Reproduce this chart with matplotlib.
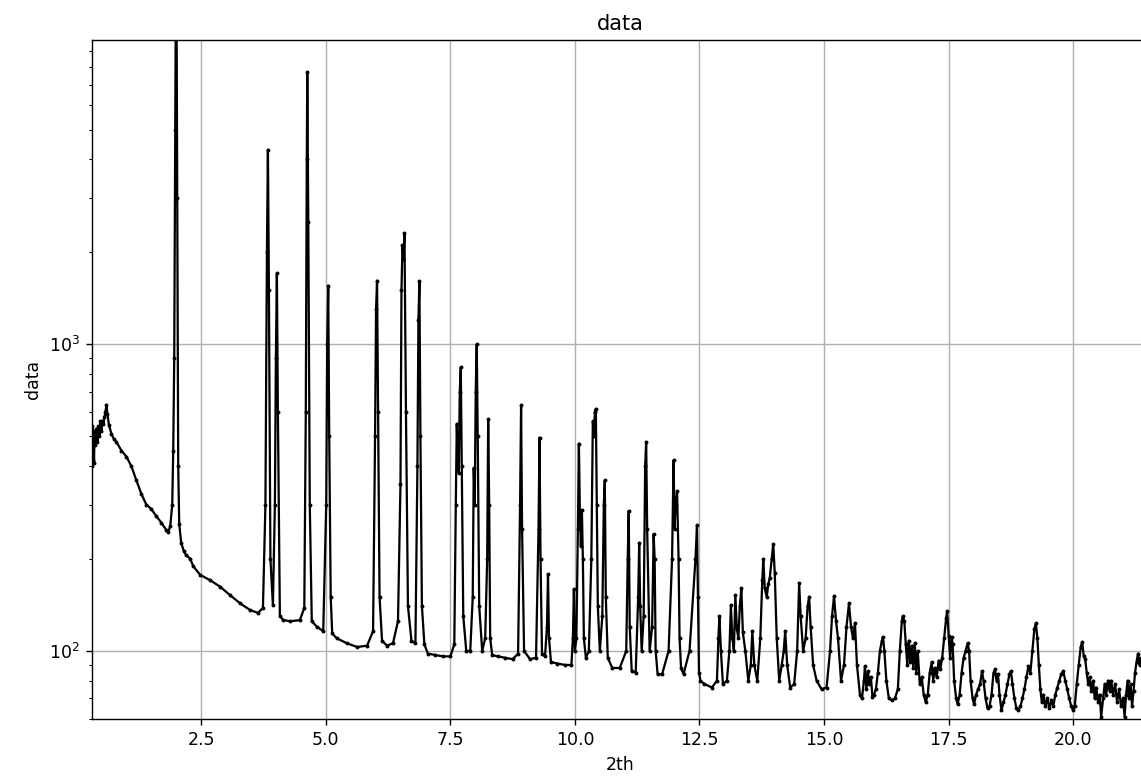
# XRD-like scan, log intensity vs 2th
import numpy as np
import matplotlib
matplotlib.use('Agg')
import matplotlib.pyplot as plt

# low angle part incl. the big reflex at 2.0
tth_a = [0.31, 0.32, 0.33, 0.34, 0.35, 0.36, 0.38, 0.40, 0.42, 0.44, 0.46, 0.48, 0.50, 0.52,
         0.54, 0.56, 0.58, 0.60, 0.62, 0.65, 0.70, 0.75, 0.80, 0.90, 1.00, 1.10, 1.20, 1.30,
         1.40, 1.50, 1.60, 1.70, 1.80, 1.84, 1.88, 1.92, 1.94, 1.96, 1.98, 2.00, 2.02, 2.04,
         2.06, 2.10, 2.15, 2.20, 2.28]
cnt_a = [400, 540, 420, 520, 410, 500, 470, 530, 480, 540, 500, 560, 520, 560,
         550, 580, 600, 635, 590, 545, 510, 490, 480, 450, 430, 400, 360, 325,
         300, 290, 275, 262, 248, 244, 255, 300, 450, 900, 5000, 25000, 3000, 400,
         260, 225, 212, 205, 200]

# 2.3 - 7.0
tth_b = [2.34, 2.48, 2.68, 2.88, 3.08, 3.28, 3.48, 3.64, 3.74, 3.79, 3.82, 3.84, 3.86, 3.89,
         3.94, 3.98, 4.00, 4.02, 4.04, 4.08, 4.15, 4.29, 4.48, 4.57, 4.60, 4.62, 4.63, 4.65,
         4.68, 4.72, 4.82, 4.95, 5.01, 5.03, 5.05, 5.07, 5.10, 5.13, 5.22, 5.42, 5.63, 5.83,
         5.95, 5.99, 6.01, 6.03, 6.05, 6.08, 6.13, 6.23, 6.35, 6.45, 6.50, 6.52, 6.54, 6.56,
         6.58, 6.61, 6.65, 6.72, 6.80, 6.84, 6.86, 6.88, 6.90, 6.93, 6.98]
cnt_b = [189, 177, 170, 162, 152, 143, 136, 133, 138, 300, 2000, 4300, 1500, 200,
         141, 300, 900, 1700, 600, 130, 126, 125, 126, 138, 600, 4000, 7700, 2500,
         300, 125, 120, 116, 300, 1000, 1550, 500, 150, 114, 110, 106, 103, 104,
         116, 500, 1300, 1610, 600, 150, 108, 104, 106, 125, 350, 1500, 2100, 1900,
         2300, 600, 140, 108, 106, 400, 1200, 1600, 500, 140, 105]

# 7.0 - 12.8
tth_c = [7.05, 7.20, 7.35, 7.50, 7.58, 7.61, 7.63, 7.65, 7.67, 7.69, 7.71, 7.73, 7.76, 7.82,
         7.90, 7.95, 7.97, 7.99, 8.01, 8.03, 8.05, 8.08, 8.14, 8.20, 8.24, 8.26, 8.28, 8.30,
         8.34, 8.45, 8.60, 8.75, 8.86, 8.90, 8.92, 8.94, 8.98, 9.10, 9.22, 9.27, 9.29, 9.31,
         9.34, 9.40, 9.44, 9.46, 9.48, 9.52, 9.65, 9.80, 9.93, 9.96, 9.98, 10.00, 10.03, 10.06,
         10.08, 10.10, 10.12, 10.14, 10.16, 10.18, 10.22, 10.28, 10.33, 10.36, 10.38, 10.40,
         10.42, 10.44, 10.46, 10.50, 10.55, 10.58, 10.60, 10.62, 10.66, 10.75, 10.90, 11.03,
         11.06, 11.08, 11.10, 11.14, 11.22, 11.27, 11.29, 11.31, 11.34, 11.38, 11.41, 11.43,
         11.45, 11.50, 11.55, 11.58, 11.60, 11.62, 11.66, 11.75, 11.88, 11.95, 11.98, 12.00,
         12.02, 12.05, 12.08, 12.10, 12.13, 12.18, 12.30, 12.42, 12.45, 12.47, 12.49, 12.52,
         12.60, 12.75]
cnt_c = [98, 97, 96, 96, 105, 300, 550, 420, 380, 700, 840, 400, 130, 100,
         100, 150, 395, 300, 700, 1000, 500, 140, 100, 110, 200, 570, 300, 110,
         97, 96, 95, 94, 98, 300, 632, 250, 100, 94, 95, 250, 496, 200,
         98, 96, 120, 178, 110, 92, 91, 90, 90, 110, 159, 100, 110, 250,
         474, 280, 220, 288, 200, 110, 95, 100, 200, 560, 500, 600,
         615, 300, 140, 100, 130, 300, 360, 150, 95, 88, 88, 100,
         200, 286, 120, 86, 85, 150, 225, 140, 100, 130, 400, 480,
         250, 100, 120, 240, 200, 100, 84, 84, 100, 200, 418, 250,
         300, 332, 200, 110, 88, 84, 100, 200, 257, 150, 85, 80,
         78, 76]

# 12.8 - 15.75
tth_d = [12.85, 12.88, 12.90, 12.93, 12.97, 13.05, 13.10, 13.13, 13.16, 13.19, 13.22, 13.25,
         13.28, 13.31, 13.34, 13.37, 13.42, 13.48, 13.53, 13.56, 13.60, 13.66, 13.72, 13.76,
         13.78, 13.81, 13.85, 13.88, 13.91, 13.95, 13.98, 14.01, 14.05, 14.10, 14.15, 14.19,
         14.22, 14.26, 14.32, 14.40, 14.46, 14.50, 14.53, 14.58, 14.63, 14.67, 14.70, 14.73,
         14.78, 14.85, 14.95, 15.05, 15.12, 15.16, 15.20, 15.24, 15.28, 15.34, 15.40, 15.45,
         15.50, 15.54, 15.58, 15.62, 15.66, 15.72]
cnt_d = [80, 110, 130, 100, 78, 80, 100, 141, 110, 100, 152, 118,
         110, 140, 160, 115, 100, 80, 90, 116, 90, 80, 110, 170,
         199, 160, 150, 165, 173, 200, 223, 180, 110, 80, 90, 100,
         116, 90, 76, 78, 100, 166, 130, 100, 110, 140, 150, 120,
         90, 80, 75, 76, 100, 130, 151, 125, 110, 80, 90, 120,
         143, 120, 110, 123, 90, 72]

# 15.75 - 21.5, noisy tail
tth_e = [15.76, 15.80, 15.82, 15.85, 15.88, 15.91, 15.94, 15.97, 16.00, 16.04, 16.08, 16.12,
         16.16, 16.18, 16.21, 16.25, 16.30, 16.36, 16.42, 16.48, 16.52, 16.56, 16.58, 16.61,
         16.64, 16.67, 16.70, 16.73, 16.76, 16.79, 16.82, 16.85, 16.88, 16.92, 16.96, 17.00,
         17.04, 17.08, 17.12, 17.16, 17.19, 17.22, 17.26, 17.30, 17.33, 17.37, 17.41, 17.45,
         17.47, 17.50, 17.53, 17.56, 17.58, 17.61, 17.65, 17.68, 17.72, 17.76, 17.80, 17.84,
         17.88, 17.91, 17.94, 17.98, 18.01, 18.05, 18.09, 18.13, 18.17, 18.20, 18.24, 18.28,
         18.32, 18.36, 18.40, 18.43, 18.46, 18.49, 18.52, 18.56, 18.60, 18.64, 18.68, 18.72,
         18.75, 18.78, 18.82, 18.86, 18.90, 18.94, 18.98, 19.02, 19.06, 19.10, 19.14, 19.18,
         19.22, 19.25, 19.28, 19.31, 19.34, 19.37, 19.40, 19.44, 19.48, 19.52, 19.56, 19.60,
         19.64, 19.68, 19.72, 19.76, 19.80, 19.84, 19.88, 19.92, 19.96, 20.00, 20.03, 20.07,
         20.11, 20.15, 20.18, 20.21, 20.24, 20.27, 20.30, 20.33, 20.36, 20.40, 20.43, 20.46,
         20.50, 20.53, 20.56, 20.60, 20.63, 20.66, 20.70, 20.73, 20.76, 20.80, 20.84, 20.88,
         20.92, 20.96, 21.00, 21.03, 21.06, 21.09, 21.12, 21.15, 21.18, 21.21, 21.24, 21.27,
         21.30, 21.33, 21.36, 21.40, 21.45, 21.50]
cnt_e = [70, 80, 89, 75, 86, 78, 82, 71, 72, 75, 85, 100,
         108, 111, 100, 80, 70, 69, 70, 75, 100, 125, 130, 125,
         105, 90, 108, 92, 104, 88, 106, 85, 100, 78, 82, 72,
         68, 72, 85, 92, 80, 88, 82, 93, 87, 95, 110, 128,
         135, 112, 95, 111, 105, 80, 70, 67, 72, 85, 95, 100,
         106, 100, 80, 70, 67, 72, 75, 78, 86, 80, 70, 65,
         66, 72, 85, 87, 80, 84, 72, 64, 68, 72, 78, 84,
         86, 78, 70, 65, 64, 66, 70, 75, 82, 89, 85, 100,
         118, 123, 110, 90, 75, 68, 72, 66, 70, 65, 69, 66,
         72, 76, 80, 84, 86, 80, 75, 70, 66, 64, 66, 78,
         90, 103, 107, 96, 94, 85, 78, 82, 74, 80, 70, 76,
         68, 72, 61, 70, 78, 72, 80, 74, 80, 72, 78, 68,
         75, 66, 70, 61, 72, 80, 70, 78, 66, 74, 85, 92,
         98, 90, 95, 85, 92, 88]

tth = np.array(tth_a + tth_b + tth_c + tth_d + tth_e)
cnt = np.array(cnt_a + cnt_b + cnt_c + cnt_d + cnt_e)

fig = plt.figure(figsize=(1141/125, 776/125), dpi=125)
ax = fig.add_axes([92/1141, 57/776, 1056/1141, 679/776])
ax.plot(tth, cnt, 'k.-', lw=1.3, ms=2.5)
ax.set_yscale('log')
ax.set_xlim(0.31, 21.5)
ax.set_ylim(60, 9800)
ax.grid(True)
ax.set_title('data')
ax.set_xlabel('2th')
ax.set_ylabel('data')
fig.savefig('out.png', dpi=125)
